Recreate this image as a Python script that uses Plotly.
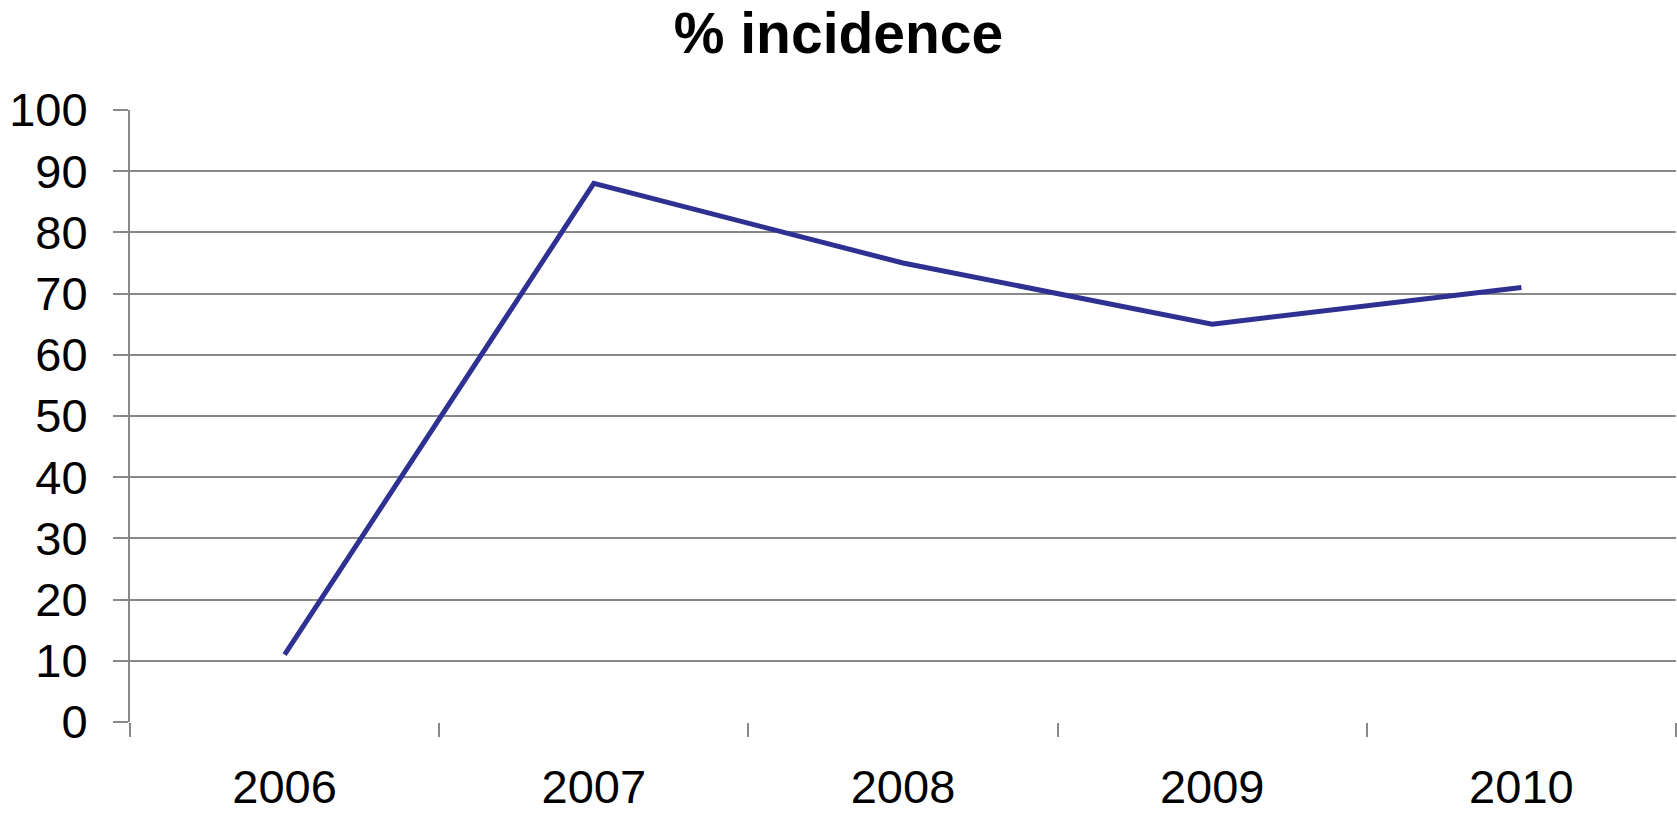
import plotly.graph_objects as go

years = ["2006", "2007", "2008", "2009", "2010"]
incidence = [11, 88, 75, 65, 71]
y_ticks = [0, 10, 20, 30, 40, 50, 60, 70, 80, 90, 100]

fig = go.Figure()
fig.add_trace(go.Scatter(
    x=years, y=incidence, mode="lines",
    line=dict(color="#2E3192", width=5),
    showlegend=False,
))

fig.update_layout(
    width=1677, height=814,
    paper_bgcolor="white", plot_bgcolor="white",
    margin=dict(l=130, r=1, t=110, b=92, autoexpand=False),
    font=dict(family="Liberation Sans, Arial, sans-serif", color="black"),
    title=dict(text="<b>% incidence</b>", x=0.5, xanchor="center",
               y=1 - 53 / 814, yanchor="bottom",
               font=dict(size=57, family="Liberation Sans, Arial, sans-serif")),
)
fig.update_xaxes(
    type="category", range=[-0.5, 4.5], automargin=False,
    showgrid=False, showline=False, zeroline=False,
    ticks="outside", tickson="boundaries", ticklen=14, tickwidth=2, tickcolor="#888888",
    tickfont=dict(size=47), ticklabelstandoff=33,
)
fig.update_yaxes(
    range=[0, 100], tickvals=y_ticks, automargin=False,
    showgrid=True, gridcolor="#888888", gridwidth=2,
    showline=True, linecolor="#888888", linewidth=2,
    zeroline=False,
    ticks="outside", ticklen=15, tickwidth=2, tickcolor="#888888",
    tickfont=dict(size=47), ticklabelstandoff=16,
)

fig.write_html(
    "out.html",
    config={"displayModeBar": False},
    post_script="document.body.style.margin='0';document.body.style.overflow='hidden';",
)
